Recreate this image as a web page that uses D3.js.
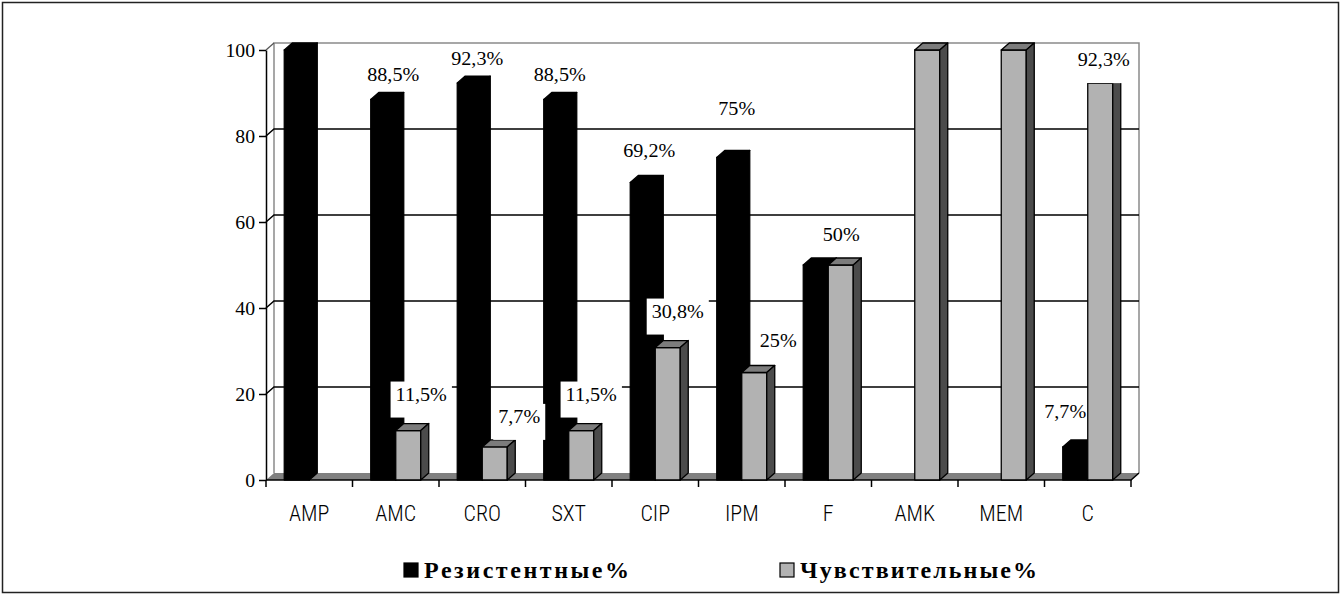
<!DOCTYPE html>
<html><head><meta charset="utf-8">
<script src="https://cdn.jsdelivr.net/npm/d3@7"></script>
<style>
body{margin:0;background:#fff}svg{display:block}
.serif{font-family:"Liberation Serif","Times New Roman"}
.sansn{font-family:"Roboto Condensed","Liberation Sans"}
</style>
</head><body><svg id="c" width="1342" height="596"></svg>
<script>
// ---- data ----
const categories = ["AMP","AMC","CRO","SXT","CIP","IPM","F","AMK","MEM","C"];
const resistant  = [100, 88.5, 92.3, 88.5, 69.2, 75, 50, 0, 0, 7.7];
const sensitive  = [0, 11.5, 7.7, 11.5, 30.8, 25, 50, 100, 100, 92.3];
const resistantLabels = ["", "88,5%", "92,3%", "88,5%", "69,2%", "75%", "50%", "", "", "7,7%"];
const sensitiveLabels = ["", "11,5%", "7,7%", "11,5%", "30,8%", "25%", "", "", "", "92,3%"];
const yTicks = [0, 20, 40, 60, 80, 100];
const seriesNames = ["Резистентные%", "Чувствительные%"];

// ---- layout (label nudges from default anchor, in px) ----
const resNudge  = [[0,0],[2.5,0],[0,0],[-4,0],[-1,-7],[0,-25],[18,-6],[0,0],[0,0],[-17.5,-11]];
const sensNudge = [[0,0],[3,0],[14.5,6],[0,0],[0,0],[14,4],[0,0],[0,0],[0,0],[-6.5,13]];

const svg = d3.select("#c");
svg.append("rect").attr("x",2.5).attr("y",2.5).attr("width",1336).attr("height",590)
  .attr("fill","#fff").attr("stroke","#222").attr("stroke-width",1.5);

const P = {left:266, right:1131, top:50, bottom:480};
const DX = 8, DY = -7;
const x = d3.scaleBand().domain(categories).range([P.left, P.right]);
const xs = d3.scaleBand().domain(["r","s"]).range([0, x.bandwidth()]).paddingOuter(0.73);
const y = d3.scaleLinear().domain([0,100]).range([P.bottom, P.top]);
const bw = xs.bandwidth();

const g = svg.append("g");
// floor
g.append("path")
  .attr("d", `M${P.left},${P.bottom}L${P.right},${P.bottom}L${P.right+DX},${P.bottom+DY}L${P.left+DX},${P.bottom+DY}Z`)
  .attr("fill","#808080");
// back wall border
g.append("path")
  .attr("d", `M${P.left+DX},${y(0)+DY}V${y(100)+DY}H${P.right+DX}V${y(0)+DY}`)
  .attr("fill","none").attr("stroke","#8a8a8a").attr("stroke-width",1.5);
// side wall top edge
g.append("line").attr("x1",P.left).attr("y1",y(100)).attr("x2",P.left+DX).attr("y2",y(100)+DY)
  .attr("stroke","#555").attr("stroke-width",1.2);
// gridlines
yTicks.filter(t => t > 0 && t < 100).forEach(t => {
  g.append("path")
    .attr("d", `M${P.left},${y(t)}L${P.left+DX},${y(t)+DY}H${P.right+DX}`)
    .attr("fill","none").attr("stroke","#000").attr("stroke-width",1.5);
});

// y axis
const yAxis = d3.axisLeft(y).tickValues(yTicks).tickSize(7).tickSizeOuter(0).tickPadding(4);
const ya = svg.append("g").attr("transform",`translate(${P.left},0)`).call(yAxis)
  .attr("font-family", null).attr("font-size", null);
ya.select(".domain").attr("stroke","#000").attr("stroke-width",1.5);
ya.selectAll(".tick line").attr("stroke","#000").attr("stroke-width",1.5);
ya.selectAll(".tick text").attr("class","serif")
  .style("font-size","19px").attr("fill","#000")
  .attr("transform","scale(1.04,1)").attr("x", -11/1.04);

// x axis front edge + right edge + ticks
svg.append("path")
  .attr("d", `M${P.left},${P.bottom}H${P.right}L${P.right+DX},${P.bottom+DY}`)
  .attr("fill","none").attr("stroke","#000").attr("stroke-width",1.5);
const bounds = categories.map(c => x(c)).concat([x(categories[categories.length-1]) + x.bandwidth()]);
svg.selectAll(".xt").data(bounds).join("line")
  .attr("x1",d=>d).attr("x2",d=>d).attr("y1",P.bottom).attr("y2",P.bottom+7)
  .attr("stroke","#000").attr("stroke-width",1.5);
svg.selectAll(".xl").data(categories).join("text")
  .attr("class","sansn")
  .attr("x", d => x(d) + x.bandwidth()/2).attr("y", 521)
  .attr("text-anchor","middle")
  .style("font-size","22px").style("font-weight","300").attr("fill","#000").text(d => d);

// bars
function bar(gp, x0, v, c) {
  if (v <= 0) return;
  const yt = y(v), yb = y(0);
  const common = s => s.attr("stroke","#000").attr("stroke-width",1.3).attr("stroke-linejoin","round");
  common(gp.append("path").attr("d",`M${x0},${yb}V${yt}H${x0+bw}V${yb}Z`).attr("fill",c.front));
  common(gp.append("path").attr("d",`M${x0},${yt}L${x0+DX},${yt+DY}H${x0+bw+DX}L${x0+bw},${yt}Z`).attr("fill",c.top));
  common(gp.append("path").attr("d",`M${x0+bw},${yt}L${x0+bw+DX},${yt+DY}V${yb+DY}L${x0+bw},${yb}Z`).attr("fill",c.side));
}
const blackC = {front:"#000", top:"#000", side:"#000"};
const greyC  = {front:"#b2b2b2", top:"#7c7c7c", side:"#4b4b4b"};

const gRes = svg.append("g");
categories.forEach((c,i) => bar(gRes, x(c)+xs("r"), resistant[i], blackC));
// resistant labels (no background)
const gResL = svg.append("g");
categories.forEach((c,i) => {
  if (!resistantLabels[i]) return;
  const cx = x(c)+xs("r")+20+resNudge[i][0];
  const by = y(resistant[i]) - 18 + resNudge[i][1];
  gResL.append("text").attr("class","serif").attr("transform",`translate(${cx},${by}) scale(1.12,1)`)
    .attr("text-anchor","middle").style("font-size","18px")
    .attr("fill","#000").text(resistantLabels[i]);
});
const gSen = svg.append("g");
categories.forEach((c,i) => bar(gSen, x(c)+xs("s"), sensitive[i], greyC));
// sensitive labels (white background)
const gSenBg = svg.append("g");
const gSenL = svg.append("g");
categories.forEach((c,i) => {
  if (!sensitiveLabels[i]) return;
  const cx = x(c)+xs("s")+22.5+sensNudge[i][0];
  const by = y(sensitive[i]) - 30 + sensNudge[i][1];
  const t = gSenL.append("text").attr("class","serif").attr("transform",`translate(${cx},${by}) scale(1.12,1)`)
    .attr("text-anchor","middle").style("font-size","18px")
    .attr("fill","#000").text(sensitiveLabels[i]);
  const w = t.node().getComputedTextLength()*1.12;
  gSenBg.append("rect")
    .attr("x", cx - w/2 - 5).attr("y", by - 19).attr("width", w + 10).attr("height", 36)
    .attr("fill","#fff");
});

// legend
const lg = svg.append("g");
const legendItems = [
  {name: seriesNames[0], fill:"#000", sx:404, tw:205},
  {name: seriesNames[1], fill:"#b2b2b2", sx:780, tw:237}
];
legendItems.forEach(d => {
  lg.append("rect").attr("x",d.sx).attr("y",563).attr("width",14).attr("height",14)
    .attr("fill",d.fill).attr("stroke","#000").attr("stroke-width",1.2);
  lg.append("text").attr("class","serif").attr("x",d.sx+20).attr("y",578)
    .style("font-weight","bold").style("font-size","24px")
    .attr("textLength", d.tw).attr("lengthAdjust","spacing")
    .attr("fill","#000").text(d.name);
});
</script>
</body></html>
